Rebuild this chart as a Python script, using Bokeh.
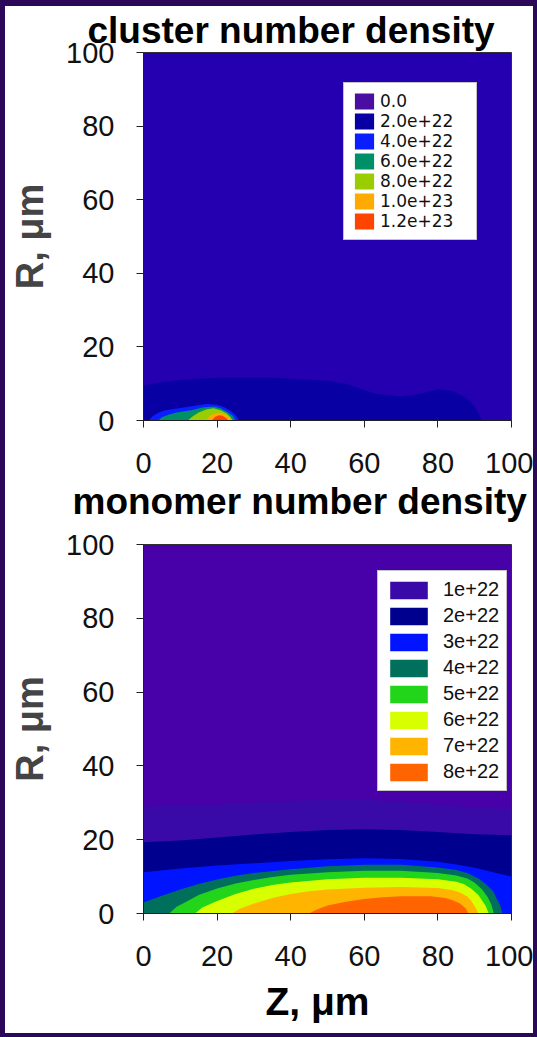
from bokeh.plotting import figure
from bokeh.models import Range1d, Legend, LegendItem, FixedTicker, Title
from bokeh.layouts import column
from bokeh.embed import file_html
from bokeh.resources import INLINE

# ---------------- cluster number density ----------------
# Each filled level is the region between R = 0 and its upper contour R(Z).
cl_labels = ["0.0", "2.0e+22", "4.0e+22", "6.0e+22", "8.0e+22", "1.0e+23", "1.2e+23"]
cl_colors = ["#4a0ea2", "#0800a2", "#0a1eff", "#009068", "#9acd00", "#ffaa00", "#ff4400"]
cl_field = "#2500b0"

cl_z_0 = [0, 100]
cl_r_0 = [0, 0]
cl_z_2e22 = [0, 5, 10, 20, 35, 50, 55, 58, 63, 70, 75, 80, 84, 87, 89, 90.5, 92]
cl_r_2e22 = [9.5, 10.4, 11, 11.6, 11.6, 10.8, 10, 9, 7.3, 6.5, 7.2, 8.4, 8, 6.5, 5, 3, 0]
cl_z_4e22 = [1.5, 2.5, 4, 6, 10, 14, 17, 20, 22, 24, 25.2, 26]
cl_r_4e22 = [0, 1.2, 2.1, 2.8, 3.4, 4.0, 4.5, 4.3, 3.6, 2.4, 1.3, 0]
cl_z_6e22 = [4, 5, 7, 9, 13, 16, 19, 21, 23, 24.3, 25]
cl_r_6e22 = [0, 0.9, 1.6, 2.2, 2.8, 3.5, 3.8, 3.3, 2.2, 1.2, 0]
cl_z_8e22 = [12, 13.5, 15, 17, 19, 21, 22.5, 23.5, 24.3]
cl_r_8e22 = [0, 1.2, 2.2, 3.0, 3.3, 2.8, 2.0, 1.1, 0]
cl_z_1e23 = [17, 18, 19.5, 21, 22.5, 23.5, 24]
cl_r_1e23 = [0, 1.2, 2.0, 2.1, 1.5, 0.7, 0]
cl_z_12e23 = [18.5, 19.5, 20.5, 21.5, 22.5, 23]
cl_r_12e23 = [0, 1.0, 1.4, 1.3, 0.7, 0]

cl_contours = [
    (cl_z_0, cl_r_0),
    (cl_z_2e22, cl_r_2e22),
    (cl_z_4e22, cl_r_4e22),
    (cl_z_6e22, cl_r_6e22),
    (cl_z_8e22, cl_r_8e22),
    (cl_z_1e23, cl_r_1e23),
    (cl_z_12e23, cl_r_12e23),
]

# ---------------- monomer number density ----------------
mo_labels = ["1e+22", "2e+22", "3e+22", "4e+22", "5e+22", "6e+22", "7e+22", "8e+22"]
mo_colors = ["#3a0aa8", "#00008e", "#0014ff", "#00705c", "#22d41a", "#d8ff00", "#ffb400", "#ff6400"]
mo_field = "#4800a8"

mo_z_1e22 = [0, 10, 20, 30, 40, 50, 60, 70, 80, 90, 100]
mo_r_1e22 = [29, 29.3, 29.5, 30, 30.5, 30.8, 30.8, 30.3, 29.5, 28.8, 28.3]
mo_z_2e22 = [0, 10, 20, 30, 40, 50, 60, 70, 80, 90, 100]
mo_r_2e22 = [19.3, 19.8, 20.6, 21.4, 22.1, 22.6, 22.8, 22.6, 22.1, 21.5, 21.2]
mo_z_3e22 = [0, 10, 20, 30, 40, 50, 60, 70, 80, 85, 90, 95, 100]
mo_r_3e22 = [11.2, 12.2, 13.0, 13.6, 14.2, 14.7, 15.0, 14.8, 14.0, 13.3, 12.4, 11.2, 10.0]
mo_z_4e22 = [0, 5, 10, 15, 20, 25, 30, 40, 50, 60, 70, 80, 85, 88, 91, 93, 95, 96, 97, 97.5]
mo_r_4e22 = [3, 4.8, 6.5, 8, 9.2, 10.2, 11, 12, 12.8, 13.2, 13.2, 12.5, 11.8, 11, 9.5, 8, 6, 4, 2, 0]
mo_z_5e22 = [7, 9, 12, 15, 20, 25, 30, 35, 40, 50, 60, 70, 80, 85, 88, 90, 92, 93.5, 94.5, 95.2]
mo_r_5e22 = [0, 1.8, 3.4, 5.0, 6.8, 8.1, 9.1, 9.9, 10.5, 11.2, 11.6, 11.6, 11, 10.3, 9.5, 8.3, 6.5, 4.5, 2.5, 0]
mo_z_6e22 = [14, 16, 20, 25, 30, 35, 40, 50, 60, 70, 80, 85, 87, 89, 91, 92, 93, 93.8]
mo_r_6e22 = [0, 1.6, 3.4, 5.3, 6.7, 7.7, 8.4, 9.3, 9.7, 9.7, 9.3, 8.6, 8, 6.8, 5, 3.5, 2, 0]
mo_z_7e22 = [24, 26, 30, 35, 40, 45, 50, 60, 70, 80, 84, 86, 88, 89, 90.3, 91]
mo_r_7e22 = [0, 1.2, 2.7, 4.2, 5.3, 6.0, 6.5, 7.0, 7.2, 6.9, 6.3, 5.7, 4.6, 3.5, 1.5, 0]
mo_z_8e22 = [45, 47, 50, 55, 60, 65, 70, 78, 82, 84, 86, 87.5, 88.3]
mo_r_8e22 = [0, 1.0, 2.2, 3.2, 3.9, 4.4, 4.7, 4.7, 4.2, 3.6, 2.7, 1.4, 0]

mo_contours = [
    (mo_z_1e22, mo_r_1e22),
    (mo_z_2e22, mo_r_2e22),
    (mo_z_3e22, mo_r_3e22),
    (mo_z_4e22, mo_r_4e22),
    (mo_z_5e22, mo_r_5e22),
    (mo_z_6e22, mo_r_6e22),
    (mo_z_7e22, mo_r_7e22),
    (mo_z_8e22, mo_r_8e22),
]

axis_ticks = [0, 20, 40, 60, 80, 100]

TICK_FONT = "Liberation Sans"
BOLD_FONT = "Liberation Sans"


def heading(text, offset, standoff, valign):
    return Title(text=text, text_font=BOLD_FONT, text_font_size="37px",
                 text_font_style="bold", text_color="black", align="left",
                 offset=offset, standoff=standoff, vertical_align=valign)


def make_panel(field, contours, colors, labels, height, top, bottom,
               legend_loc, legend_style, legend_font):
    p = figure(width=528, height=height, output_backend="svg", toolbar_location=None,
               x_range=Range1d(0, 100), y_range=Range1d(0, 100),
               min_border_left=138, min_border_right=22,
               min_border_top=top, min_border_bottom=bottom)
    p.background_fill_color = field
    p.border_fill_color = "white"
    p.outline_line_color = "#303030"
    p.outline_line_width = 1
    p.grid.visible = False

    for ax in (p.xaxis[0], p.yaxis[0]):
        ax.ticker = FixedTicker(ticks=axis_ticks)
        ax.minor_tick_line_color = None
        ax.major_tick_in = 0
        ax.major_tick_out = 7
        ax.major_tick_line_color = "#202020"
        ax.axis_line_color = "#202020"
        ax.major_label_text_font = TICK_FONT
        ax.major_label_text_font_size = "29px"
        ax.major_label_text_color = "#111111"
    p.yaxis.major_label_standoff = 22
    p.xaxis.major_label_standoff = 25

    p.yaxis.axis_label = "R, \u03bcm"
    p.yaxis.axis_label_text_font = BOLD_FONT
    p.yaxis.axis_label_text_font_size = "38px"
    p.yaxis.axis_label_text_font_style = "bold"
    p.yaxis.axis_label_standoff = 12

    items = []
    for (zs, rs), c, lab in zip(contours, colors, labels):
        r = p.varea(x=zs, y1=[0] * len(zs), y2=rs, fill_color=c)
        items.append(LegendItem(label=lab, renderers=[r]))

    leg = Legend(items=items, location=legend_loc, **legend_style)
    leg.label_text_font = legend_font
    leg.label_text_color = "#111111"
    leg.background_fill_color = "white"
    leg.background_fill_alpha = 1
    leg.border_line_color = "#8a8a8a"
    leg.border_line_width = 1
    leg.margin = 0
    p.add_layout(leg, "center")
    return p


top = make_panel(cl_field, cl_contours, cl_colors, cl_labels, height=521, top=43, bottom=107,
                 legend_loc=(200, 180),
                 legend_style=dict(glyph_width=24, glyph_height=20, spacing=0,
                                   padding=8, label_standoff=4, label_width=88,
                                   label_height=18, label_text_font_size="17px"),
                 legend_font="DejaVu Sans")
top.add_layout(heading("cluster number density", -56, 3, "bottom"), "above")
# the lower panel's heading sits in the upper figure's bottom margin,
# directly under its Z tick labels, so the two figures can abut
top.add_layout(heading("monomer number density", -71, 8, "middle"), "below")

bottom = make_panel(mo_field, mo_contours, mo_colors, mo_labels, height=506, top=17,
                    bottom=119, legend_loc=(234, 122),
                    legend_style=dict(glyph_width=47, glyph_height=22, spacing=3,
                                      padding=7, label_standoff=11, label_height=22,
                                      label_text_font_size="20px"),
                    legend_font=TICK_FONT)
bottom.add_layout(Title(text="Z, \u03bcm", text_font=BOLD_FONT, text_font_size="39px",
                        text_font_style="bold", text_color="black", align="left",
                        offset=122, standoff=20, vertical_align="middle"), "below")

page = column(top, bottom, spacing=0,
              styles={"background-color": "white", "border-style": "solid",
                      "border-color": "#2b0858", "border-width": "6px 4px 4px 5px"})

open("out.html", "w").write(file_html(page, INLINE))
